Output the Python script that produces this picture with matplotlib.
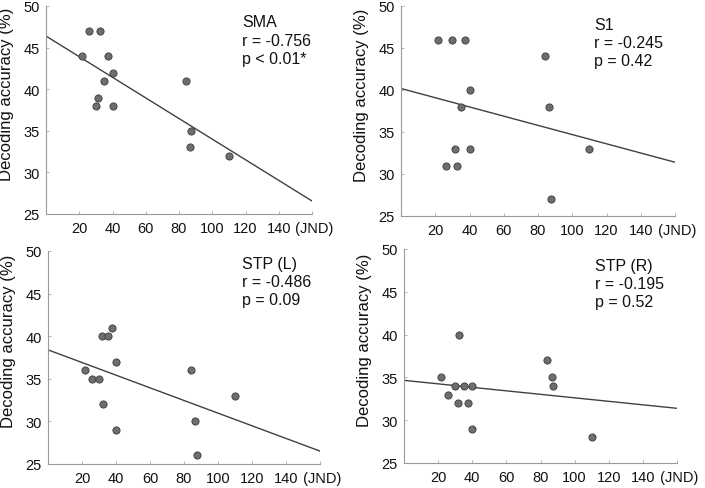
import numpy as np
import matplotlib
matplotlib.use("Agg")
import matplotlib.pyplot as plt

plt.rcParams['font.family'] = ['Liberation Sans', 'DejaVu Sans']

# JND of each subject (same for all four regions)
jnd = [21.5, 26, 30, 31.5, 32.5, 35, 37.5, 40, 40, 84, 86.5, 87.5, 110]

## Decoding accuracy (%) per region, in the same subject order
acc_sma = [44, 47, 38, 39, 47, 41, 44, 42, 38, 41, 33, 35, 32]
acc_s1 = [46, 31, 46, 33, 31, 38, 46, 40, 33, 44, 38, 27, 33]
acc_stpl = [36, 35, 35, 40, 32, 40, 41, 37, 29, 36, 30, 26, 33]
acc_stpr = [35, 33, 34, 32, 40, 34, 32, 34, 29, 37, 35, 34, 28]

regions = ['SMA', 'S1', 'STP (L)', 'STP (R)']
r_vals = ['-0.756', '-0.245', '-0.486', '-0.195']
p_vals = ['p < 0.01*', 'p = 0.42', 'p = 0.09', 'p = 0.52']
accs = [acc_sma, acc_s1, acc_stpl, acc_stpr]

xticks = [20, 40, 60, 80, 100, 120, 140, 160]
xticklabels = ['20', '40', '60', '80', '100', '120', '140', ' (JND)']
yticks = [25, 30, 35, 40, 45, 50]

W, H = 705, 489
fig = plt.figure(figsize=(W / 100, H / 100), dpi=100)

# axes boxes in pixels: left, right, top, bottom
boxes = [(46, 312, 7, 215), (401, 675, 7, 217),
         (48, 320, 252, 465), (404, 677, 250, 464)]
text_x = [0.737, 0.706, 0.715, 0.70]
text_y = [0.96, 0.95, 0.978, 0.96]

for i in range(4):
    l, r, t, b = boxes[i]
    ax = fig.add_axes([l / W, 1 - b / H, (r - l) / W, (b - t) / H])
    x = np.array(jnd)
    y = np.array(accs[i])
    k, c = np.polyfit(x, y, 1)
    xx = np.array([0, 160])
    ax.plot(xx, k * xx + c, color='#404040', lw=1.0, zorder=2)
    ax.scatter(x, y, s=27, facecolor='#6e6e6e', edgecolor='#3a3a3a',
               linewidth=0.6, zorder=3)
    ax.set_xlim(0, 160)
    ax.set_ylim(25, 50)
    ax.set_xticks(xticks)
    ax.set_xticklabels(xticklabels)
    ax.set_yticks(yticks)
    ax.tick_params(direction='in', length=2.5, width=0.6, color='#aaaaaa',
                   labelsize=10.5, labelcolor='#111111')
    ax.tick_params(axis='x', pad=5)
    ax.tick_params(axis='y', pad=4.5)
    for s in ['top', 'right']:
        ax.spines[s].set_visible(False)
    for s in ['left', 'bottom']:
        ax.spines[s].set_color('#9a9a9a')
        ax.spines[s].set_linewidth(0.8)
    ax.set_ylabel('Decoding accuracy (%)', fontsize=12, color='#111111')
    ax.yaxis.set_label_coords(-32 / (r - l), 0.58)
    ax.text(text_x[i], text_y[i],
            regions[i] + '\nr = ' + r_vals[i] + '\n' + p_vals[i],
            transform=ax.transAxes, ha='left', va='top', fontsize=11.5,
            linespacing=1.27, color='#111111')
    ax.set_facecolor('none')

fig.savefig('out.png', dpi=100)
